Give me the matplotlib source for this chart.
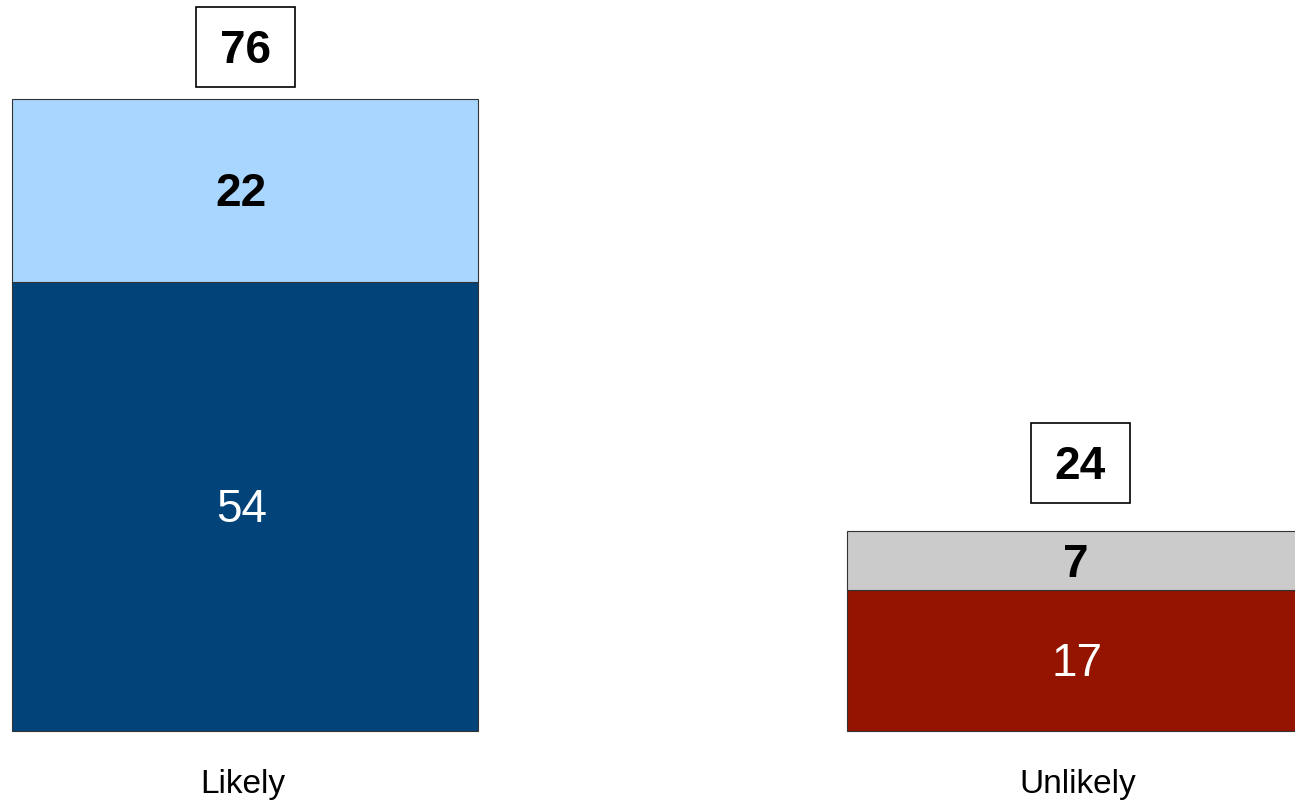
import matplotlib.pyplot as plt
from matplotlib.patches import Rectangle

categories = ["Likely", "Unlikely"]
strong = [54, 17]
weak = [22, 7]
totals = [76, 24]

strong_colors = ["#02447A", "#941400"]
weak_colors = ["#A9D6FF", "#CBCBCB"]
weak_text = ["#000000", "#000000"]
box_gap = [6.2, 8.2]

plt.rcParams['font.family'] = ['Liberation Sans', 'DejaVu Sans']

fig = plt.figure(figsize=(12.95, 8.01), dpi=100)
ax = fig.add_axes([0, 0, 1, 1])

# pixel geometry of the original: bar centres at 245 and 1080, baseline at 731
px_unit = 835.0
py_unit = 8.316
ax.set_xlim(-245 / px_unit, 1 + (1295 - 1080) / px_unit)
ax.set_ylim(-(801 - 731) / py_unit, 731 / py_unit)
ax.axis("off")

width = 466 / px_unit
x = list(range(len(categories)))

ax.bar(x, strong, width=width, color=strong_colors, edgecolor="#333333", linewidth=0.8)
ax.bar(x, weak, width=width, bottom=strong, color=weak_colors, edgecolor="#333333", linewidth=0.8)

# digits: shift down a little so the ink, not the text box, is centred
nudge = -4 / py_unit
for i in x:
    ax.text(i - 3 / px_unit, strong[i] / 2 + nudge, str(strong[i]), ha="center", va="center",
            fontsize=33, color="white")
    ax.text(i - 4 / px_unit, strong[i] + weak[i] / 2 + nudge, str(weak[i]), ha="center", va="center",
            fontsize=33, fontweight="bold", color=weak_text[i])
    cy = totals[i] + box_gap[i]
    bw = 99 / px_unit
    bh = 80 / py_unit
    ax.add_patch(Rectangle((i - bw / 2, cy - bh / 2), bw, bh, facecolor="white",
                           edgecolor="black", linewidth=1.2))
    ax.text(i, cy + nudge, str(totals[i]), ha="center", va="center",
            fontsize=33, fontweight="bold", color="black")
    ax.text(i - 2 / px_unit, -(793 - 731) / py_unit, categories[i], ha="center", va="baseline",
            fontsize=24, color="black")

fig.savefig("out.png", dpi=100)
